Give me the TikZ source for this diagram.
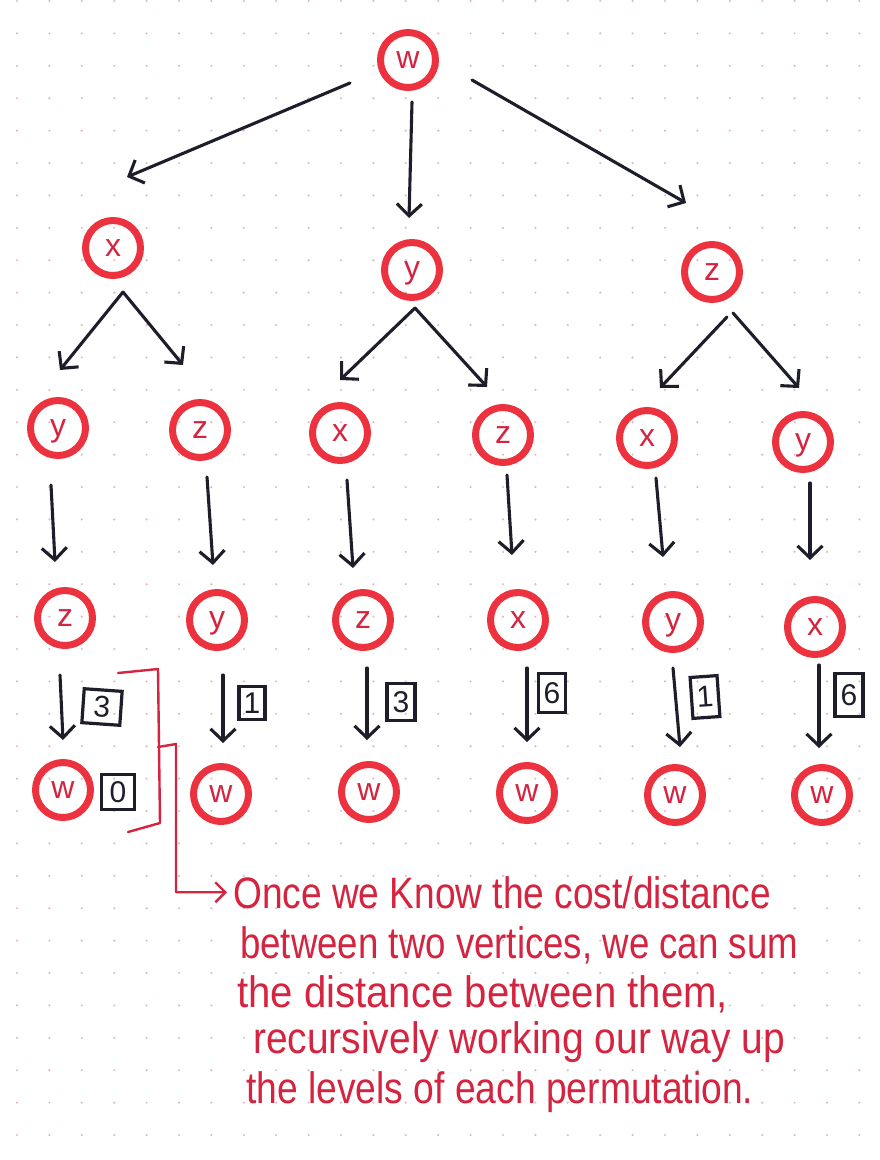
\documentclass[tikz,border=0pt]{standalone}
\usepackage{fontspec}
\usepackage{graphicx}
\newfontfamily\hand{Liberation Sans}
\usetikzlibrary{arrows.meta,calc}
\definecolor{ink}{RGB}{30,30,42}
\definecolor{ringred}{RGB}{236,50,62}
\definecolor{penred}{RGB}{212,36,64}
\definecolor{dotc}{RGB}{228,186,194}
\begin{document}
\begin{tikzpicture}[x=1pt,y=-1pt,
  vert/.style={circle,draw=ringred,line width=7pt,minimum size=55pt,inner sep=0pt,
    text=penred,font=\hand\fontsize{32}{32}\selectfont,text height=16pt,text depth=0pt},
  wbox/.style={draw=ink,line width=3.2pt,minimum width=26pt,minimum height=33pt,inner sep=0pt,
    text=ink,font=\hand\fontsize{30}{30}\selectfont},
  arr/.style={draw=ink,line width=3.1pt,line cap=round,line join=round,
    -{Straight Barb[length=12pt,width=25pt]}},
  redline/.style={draw=penred,line width=2.4pt,line cap=round,line join=round},
  notetext/.style={anchor=base west,inner sep=0pt,text=penred,font=\hand\fontsize{44}{50}\selectfont}]
\useasboundingbox (0,0) rectangle (880,1160);
\fill[white] (0,0) rectangle (880,1160);
\foreach \i in {0,...,27}{\foreach \j in {0,...,36}{\fill[dotc] (17+32.4*\i,1+32.4*\j) circle (1.2pt);}}
% nodes
\node[vert] (root) at (408,60) {w};
\node[vert] (a) at (113,248) {x};
\node[vert] (b) at (412,270) {y};
\node[vert] (c) at (712,272) {z};
\node[vert] (aa) at (58,428) {y};
\node[vert] (ab) at (200,430) {z};
\node[vert] (ba) at (340,433) {x};
\node[vert] (bb) at (503,435) {z};
\node[vert] (ca) at (647,438) {x};
\node[vert] (cb) at (803,442) {y};
\node[vert] (aaa) at (65,618) {z};
\node[vert] (aba) at (217,620) {y};
\node[vert] (baa) at (363,620) {z};
\node[vert] (bba) at (518,620) {x};
\node[vert] (caa) at (673,622) {y};
\node[vert] (cba) at (815,627) {x};
\node[vert] (w1) at (63,790) {w};
\node[vert] (w2) at (221,794) {w};
\node[vert] (w3) at (369,792) {w};
\node[vert] (w4) at (527,793) {w};
\node[vert] (w5) at (675,795) {w};
\node[vert] (w6) at (822,795) {w};
% weights
\node[wbox,minimum width=38pt,minimum height=34pt,rotate=-4] (k1) at (102,707) {3};
\node[wbox,minimum width=33pt,minimum height=35pt] (k0) at (118,792) {0};
\node[wbox] (k2) at (252,703) {1};
\node[wbox,minimum width=28pt,minimum height=37pt] (k3) at (401,702) {3};
\node[wbox,minimum width=27pt,minimum height=39pt] (k4) at (552,693) {6};
\node[wbox,minimum width=27pt,minimum height=41pt,rotate=4] (k5) at (705,697) {1};
\node[wbox,minimum width=28pt,minimum height=43pt] (k6) at (849,695) {6};
% level 0 -> 1
\draw[arr] ($(root)+(-58,23)$) -- ($(a)+(14,-71)$);
\draw[arr] ($(root)+(4,42)$) -- ($(b)+(-3,-52)$);
\draw[arr] ($(root)+(64,20)$) -- ($(c)+(-26,-69)$);
% level 1 -> 2
\draw[arr] ($(a)+(10,44)$) -- ($(aa)+(2,-58)$);
\draw[arr] ($(a)+(10,44)$) -- ($(ab)+(-17,-65)$);
\draw[arr] ($(b)+(3,38)$) -- ($(ba)+(0,-53)$);
\draw[arr] ($(b)+(3,38)$) -- ($(bb)+(-16,-48)$);
\draw[arr] ($(c)+(15,45)$) -- ($(ca)+(13,-50)$);
\draw[arr] ($(c)+(21,41)$) -- ($(cb)+(-4,-54)$);
% level 2 -> 3
\draw[arr] ($(aa)+(-7,57)$) -- ($(aaa)+(-10,-56)$);
\draw[arr] ($(ab)+(7,47)$) -- ($(aba)+(-4,-55)$);
\draw[arr] ($(ba)+(7,47)$) -- ($(baa)+(-10,-52)$);
\draw[arr] ($(bb)+(4,40)$) -- ($(bba)+(-6,-65)$);
\draw[arr] ($(ca)+(9,40)$) -- ($(caa)+(-10,-65)$);
\draw[arr] ($(cb)+(7,41)$) -- ($(cba)+(-5,-67)$);
% level 3 -> 4
\draw[arr] ($(aaa)+(-5,57)$) -- ($(w1)+(0,-50)$);
\draw[arr] ($(aba)+(6,55)$) -- ($(w2)+(2,-51)$);
\draw[arr] ($(baa)+(4,48)$) -- ($(w3)+(-2,-52)$);
\draw[arr] ($(bba)+(9,48)$) -- ($(w4)+(0,-51)$);
\draw[arr] ($(caa)+(0,46)$) -- ($(w5)+(5,-48)$);
\draw[arr] ($(cba)+(4,38)$) -- ($(w6)+(-3,-47)$);
% note
\node[notetext] (n1) at (233,908) {\resizebox{538pt}{\height}{Once we Know the cost/distance}};
\node[notetext] (n2) at (240,958) {\resizebox{558pt}{\height}{between two vertices, we can sum}};
\node[notetext] (n3) at (237,1007) {\resizebox{491pt}{\height}{the distance between them,}};
\node[notetext] (n4) at (253,1053) {\resizebox{532pt}{\height}{recursively working our way up}};
\node[notetext] (n5) at (246,1103) {\resizebox{507pt}{\height}{the levels of each permutation.}};
% bracket
\coordinate (bt1) at (118,673);
\coordinate (bt2) at (158,669);
\coordinate (bt3) at (160,823);
\coordinate (bt4) at (128,832);
\coordinate (bm) at (158,747);
\coordinate (bk) at (176,744);
\draw[redline] (bt1) -- (bt2) -- (bt3) -- (bt4);
\draw[redline,-{Straight Barb[length=10pt,width=20pt]},shorten >=6pt] (bm) -- (bk) |- (n1.west);
\end{tikzpicture}
\end{document}
